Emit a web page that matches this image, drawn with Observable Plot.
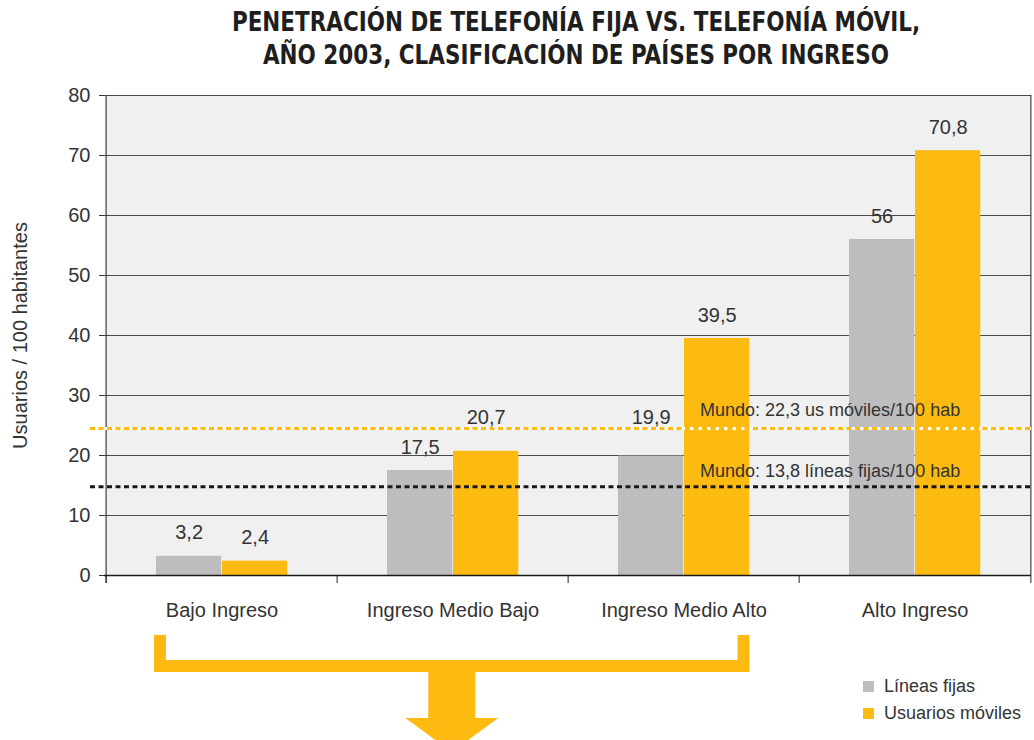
<!DOCTYPE html>
<html>
<head>
<meta charset="utf-8">
<script src="https://cdn.jsdelivr.net/npm/d3@7"></script>
<script src="https://cdn.jsdelivr.net/npm/@observablehq/plot@0.6"></script>
<style>
  body { margin: 0; background: #fff; width: 1034px; height: 740px; overflow: hidden; position: relative;
         font-family: "Liberation Sans", Arial, sans-serif; }
  #title { position: absolute; left: 118px; right: 0; top: 5px; text-align: center;
           font-family: "Liberation Sans Narrow", "DejaVu Sans Condensed", sans-serif; font-weight: bold;
           font-size: 27px; line-height: 33px; color: #1e1e1e; transform: scaleX(0.885); transform-origin: 458px 0; }
  #chart { position: absolute; left: 0; top: 80px; }
  #legend { position: absolute; left: 863px; top: 673px; font-size: 18px; color: #333; }
  .li { display: flex; align-items: center; height: 27px; }
  .sw { width: 11px; height: 11px; margin-right: 10px; }
</style>
</head>
<body>
<div id="title">PENETRACIÓN DE TELEFONÍA FIJA VS. TELEFONÍA MÓVIL,<br>AÑO 2003, CLASIFICACIÓN DE PAÍSES POR INGRESO</div>
<div id="chart"></div>
<div id="legend"></div>
<script>
// ---- data ----
const categories = ["Bajo Ingreso", "Ingreso Medio Bajo", "Ingreso Medio Alto", "Alto Ingreso"];
const fijas = [3.2, 17.5, 19.9, 56];
const moviles = [2.4, 20.7, 39.5, 70.8];
const seriesNames = ["Líneas fijas", "Usuarios móviles"];
const yTicks = [0, 10, 20, 30, 40, 50, 60, 70, 80];
const worldLines = [24.5, 14.8];           // positions of the dashed reference lines as drawn
const worldTexts = ["Mundo: 22,3 us móviles/100 hab", "Mundo: 13,8 líneas fijas/100 hab"];
const yLabel = "Usuarios / 100 habitantes";

// ---- styling / layout ----
const GRAY = "#bdbdbf", ORANGE = "#fdbb11", INK = "#333";
const W = 1034, H = 660, ML = 104, MR = 3, MT = 15, MB = 165;
const step = (W - ML - MR) / categories.length;
const groupLeft = 50, barW = 66;
const ppu = (H - MT - MB) / 80; // pixels per unit
const fmt = v => String(v).replace(".", ",");

const rows = categories.map((c, i) => ({cat: c, fijas: fijas[i], moviles: moviles[i]}));

// label placement: 17px above bar, lifted above a reference line if they collide
function labelY(v) {
  let b = v + 17 / ppu;
  const top = b + 15 / ppu;
  for (const L of worldLines) if (L > b - 1 / ppu && L < top + 1 / ppu) b = Math.max(b, L + 5 / ppu);
  return b;
}
const fijasLabels = rows.map(r => ({cat: r.cat, y: labelY(r.fijas), t: fmt(r.fijas)}));
const movilesLabels = rows.map(r => ({cat: r.cat, y: labelY(r.moviles), t: fmt(r.moviles)}));
const barCenterOffset = groupLeft + barW / 2 - step / 2; // gray bar centre relative to band centre

const arrow = (index, scales, values, dims) => {
  const {width, height, marginLeft, marginRight, marginBottom} = dims;
  const st = (width - marginLeft - marginRight) / categories.length;
  const x0 = marginLeft + groupLeft, x1 = marginLeft + 2 * st + groupLeft + 2 * barW;
  const yb = height - marginBottom;
  const t = yb + 60, hb = yb + 85, bb = yb + 97, sb = yb + 143, tip = yb + 177;
  const cx = (x0 + x1) / 2;
  const d = `M${x0},${t}H${x0 + 12}V${hb}H${x1 - 12}V${t}H${x1}V${bb}H${cx + 23.5}V${sb}H${cx + 46.5}L${cx},${tip}L${cx - 46.5},${sb}H${cx - 23.5}V${bb}H${x0}Z`;
  const p = d3.create("svg:path").attr("d", d).attr("fill", ORANGE);
  return p.node();
};

const chart = Plot.plot({
  width: W, height: H,
  marginLeft: ML, marginRight: MR, marginTop: MT, marginBottom: MB,
  style: {fontFamily: '"Liberation Sans", Arial, sans-serif', fontSize: "20px", color: INK, background: "transparent", overflow: "visible"},
  x: {domain: categories, padding: 0, tickSize: 0, tickPadding: 27, label: null},
  y: {domain: [0, 80], ticks: yTicks, tickSize: 5, tickPadding: 9, label: null},
  marks: [
    Plot.frame({fill: "#f0f0f0", stroke: null}),
    Plot.ruleY(yTicks.slice(1), {stroke: "#4a4a4a", strokeWidth: 1}),
    Plot.barY(rows, {x: "cat", y: "fijas", fill: GRAY, insetLeft: groupLeft, insetRight: step - groupLeft - barW}),
    Plot.barY(rows, {x: "cat", y: "moviles", fill: ORANGE, insetLeft: groupLeft + barW, insetRight: step - groupLeft - 2 * barW}),
    Plot.ruleY([0], {stroke: "#1a1a1a", strokeWidth: 1.5}),
    Plot.ruleX(categories, {x: d => d, dx: -step / 2, y1: 0, y2: -8 / ppu, stroke: "#222"}),
    Plot.ruleX([categories[0]], {x: d => d, dx: -step / 2, y1: 80, y2: -8 / ppu, stroke: "#222"}),
    Plot.ruleX([categories[categories.length - 1]], {x: d => d, dx: step / 2, y1: 80, y2: -8 / ppu, stroke: "#222"}),
    Plot.ruleY([worldLines[0]], {stroke: "white", strokeWidth: 3, insetLeft: -14}),
    Plot.ruleY([worldLines[0]], {stroke: ORANGE, strokeWidth: 3, strokeDasharray: "5,3.5", insetLeft: -14}),
    Plot.ruleY([worldLines[1]], {stroke: "#1a1a1a", strokeWidth: 3, strokeDasharray: "5,3.5", insetLeft: -14}),
    Plot.text(fijasLabels, {x: "cat", y: "y", text: "t", dx: barCenterOffset, dy: -6.4, fontSize: 20, fill: INK}),
    Plot.text(movilesLabels, {x: "cat", y: "y", text: "t", dx: barCenterOffset + barW, dy: -6.4, fontSize: 20, fill: INK}),
    Plot.text([worldTexts[0]], {x: () => categories[2], y: () => worldLines[0], text: d => d, textAnchor: "start", dx: 16, dy: -17.8, fontSize: 18, fill: INK}),
    Plot.text([worldTexts[1]], {x: () => categories[2], y: () => worldLines[1], text: d => d, textAnchor: "start", dx: 16, dy: -15.8, fontSize: 18, fill: INK}),
    Plot.text([yLabel], {frameAnchor: "left", textAnchor: "middle", rotate: -90, dx: -84, fontSize: 20, fill: INK}),
    arrow
  ]
});
document.getElementById("chart").appendChild(chart);

const legend = document.getElementById("legend");
[GRAY, ORANGE].forEach((c, i) => {
  const row = document.createElement("div");
  row.className = "li";
  row.innerHTML = `<span class="sw" style="background:${c}"></span><span>${seriesNames[i]}</span>`;
  legend.appendChild(row);
});
</script>
</body>
</html>
